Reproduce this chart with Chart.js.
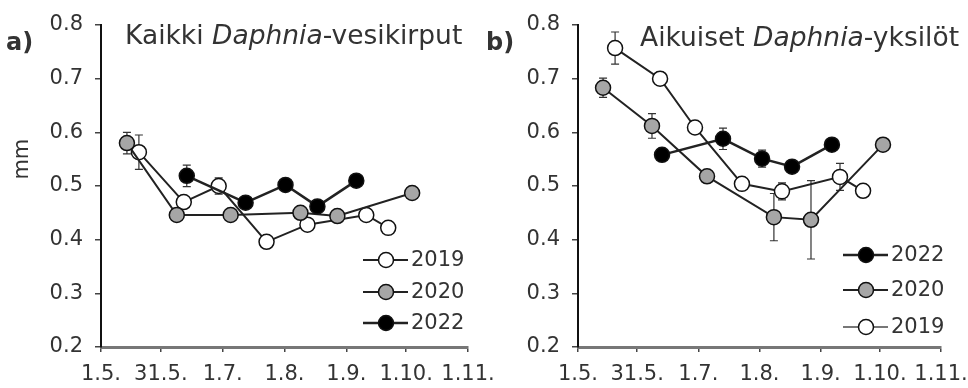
<!DOCTYPE html>
<html>
<head>
<meta charset="utf-8">
<script src="https://cdn.jsdelivr.net/npm/chart.js@4.4.1/dist/chart.umd.min.js"></script>
<style>
  html, body { margin: 0; padding: 0; background: #fff; }
  #wrap { position: relative; width: 968px; height: 388px; overflow: hidden; }
  #chart-a { position: absolute; left: 0; top: 0; width: 520px; height: 388px; }
  #chart-b { position: absolute; left: 480px; top: 0; width: 520px; height: 388px; }
</style>
</head>
<body>
<div id="wrap">
  <canvas id="chart-a" width="520" height="388"></canvas>
  <canvas id="chart-b" width="520" height="388"></canvas>
</div>
<script>
// x values are days counted from 1.5.
const tickDays = [0, 30, 61, 92, 123, 153, 184];
const tickLabels = ['1.5.', '31.5.', '1.7.', '1.8.', '1.9.', '1.10.', '1.11.'];
const yTicks = [0.2, 0.3, 0.4, 0.5, 0.6, 0.7, 0.8];

// a) Kaikki Daphnia-vesikirput
const a2019Days = [19, 41.5, 59, 83, 103.5, 133, 144];
const a2019 = [0.563, 0.470, 0.500, 0.396, 0.428, 0.446, 0.422];
const a2019Err = [0.032, 0.006, 0.015, 0, 0.005, 0, 0];
const a2020Days = [13, 38, 65, 100, 118.5, 156];
const a2020 = [0.580, 0.446, 0.446, 0.450, 0.444, 0.487];
const a2020Err = [0.02, 0, 0, 0, 0, 0];
const a2022Days = [43, 72.5, 92.5, 108.5, 128];
const a2022 = [0.519, 0.469, 0.502, 0.462, 0.510];
const a2022Err = [0.02, 0, 0, 0, 0];

// b) Aikuiset Daphnia-yksilöt
const b2019Days = [18.8, 41.6, 59.3, 83.1, 103.4, 132.8, 144.5];
const b2019 = [0.757, 0.700, 0.609, 0.504, 0.490, 0.517, 0.491];
const b2019Err = [0.03, 0.012, 0, 0, 0.016, 0.025, 0];
const b2020Days = [12.7, 37.5, 65.4, 99.3, 118.1, 154.6];
const b2020 = [0.683, 0.612, 0.518, 0.442, 0.437, 0.577];
const b2020Err = [0.018, 0.023, 0, 0.044, 0.073, 0];
const b2022Days = [42.6, 73.5, 93.3, 108.5, 128.7];
const b2022 = [0.558, 0.588, 0.551, 0.536, 0.577];
const b2022Err = [0, 0.02, 0.016, 0, 0];

const FONT = 'DejaVu Sans';
const INK = '#333';
const FILL = { '2019': '#ffffff', '2020': '#a6a6a6', '2022': '#000000' };

const errorBars = {
  id: 'errorBars',
  beforeDatasetsDraw(chart) {
    const { ctx, scales: { x, y } } = chart;
    ctx.save();
    ctx.strokeStyle = '#333';
    ctx.lineWidth = 1.2;
    chart.data.datasets.forEach(ds => {
      ds.data.forEach((p, i) => {
        const e = ds.errors[i];
        if (!e) return;
        const px = x.getPixelForValue(p.x);
        const y1 = y.getPixelForValue(p.y - e), y2 = y.getPixelForValue(p.y + e);
        ctx.beginPath();
        ctx.moveTo(px, y1); ctx.lineTo(px, y2);
        ctx.moveTo(px - 4, y1); ctx.lineTo(px + 4, y1);
        ctx.moveTo(px - 4, y2); ctx.lineTo(px + 4, y2);
        ctx.stroke();
      });
    });
    ctx.restore();
  }
};

// panel letter, title, y label and the legend
const panelText = {
  id: 'panelText',
  afterDraw(chart, args, o) {
    const ctx = chart.ctx;
    ctx.save();
    ctx.fillStyle = INK;
    ctx.textBaseline = 'alphabetic';
    ctx.textAlign = 'left';

    ctx.font = `bold 24px ${FONT}`;
    ctx.fillText(o.letter, o.letterX, 50);

    let tx = o.titleX;
    o.title.forEach(([txt, it]) => {
      ctx.font = `${it ? 'italic ' : ''}26.5px ${FONT}`;
      ctx.fillText(txt, tx, o.titleY);
      tx += ctx.measureText(txt).width;
    });

    if (o.yLabel) {
      ctx.save();
      ctx.translate(28, chart.scales.y.getPixelForValue(0.55));
      ctx.rotate(-Math.PI / 2);
      ctx.textAlign = 'center';
      ctx.font = `21px ${FONT}`;
      ctx.fillText(o.yLabel, 0, 0);
      ctx.restore();
    }

    o.legend.forEach((lab, i) => {
      const ds = chart.data.datasets.find(d => d.label === lab);
      const ly = o.legendY[i];
      ctx.strokeStyle = ds.legendLine;
      ctx.lineWidth = ds.borderWidth;
      ctx.beginPath();
      ctx.moveTo(o.legendX, ly); ctx.lineTo(o.legendX + 45, ly);
      ctx.stroke();
      ctx.beginPath();
      ctx.arc(o.legendX + 23, ly, 7.5, 0, Math.PI * 2);
      ctx.fillStyle = ds.pointBackgroundColor;
      ctx.fill();
      ctx.lineWidth = 1.5;
      ctx.strokeStyle = '#111';
      ctx.stroke();
      ctx.fillStyle = INK;
      ctx.font = `21px ${FONT}`;
      ctx.textBaseline = 'middle';
      ctx.fillText(lab, o.legendX + 48, ly + 1);
    });
    ctx.restore();
  }
};

function series(label, days, vals, err, lw, legendLine) {
  return {
    label,
    data: days.map((d, i) => ({ x: d, y: vals[i] })),
    errors: err,
    borderColor: '#222',
    borderWidth: lw,
    legendLine: legendLine || '#222',
    pointRadius: 7.5,
    pointBackgroundColor: FILL[label],
    pointBorderColor: '#111',
    pointBorderWidth: 1.5,
    tension: 0,
    fill: false
  };
}

function makeChart(el, datasets, yWidth, padRight, panel) {
  const tickFont = { family: FONT, size: 21 };
  return new Chart(el, {
    type: 'line',
    data: { datasets },
    options: {
      responsive: false,
      animation: false,
      events: [],
      layout: { padding: { left: 0, top: 25, right: padRight, bottom: 0 } },
      plugins: { legend: { display: false }, tooltip: { enabled: false }, panelText: panel },
      scales: {
        x: {
          type: 'linear', min: 0, max: 184,
          afterBuildTicks: s => { s.ticks = tickDays.map(v => ({ value: v })); },
          afterFit: s => { s.height = 41; },
          ticks: { callback: v => tickLabels[tickDays.indexOf(v)], font: tickFont, color: INK, padding: 10, maxRotation: 0, autoSkip: false },
          grid: { drawOnChartArea: false, tickLength: 5, color: '#444', lineWidth: 1.5 },
          border: { color: '#777', width: 3 }
        },
        y: {
          min: 0.2, max: 0.8,
          afterBuildTicks: s => { s.ticks = yTicks.map(v => ({ value: v })); },
          afterFit: s => { s.width = yWidth; },
          ticks: { callback: v => v.toFixed(1), font: tickFont, color: INK, padding: 12 },
          grid: { drawOnChartArea: false, tickLength: 6, color: '#444', lineWidth: 1.5 },
          border: { color: '#111', width: 2 }
        }
      }
    },
    plugins: [errorBars, panelText]
  });
}

// chart area right edges: a at 468, b at 941 (page coords)
makeChart(document.getElementById('chart-a'), [
  series('2022', a2022Days, a2022, a2022Err, 2.5),
  series('2020', a2020Days, a2020, a2020Err, 2),
  series('2019', a2019Days, a2019, a2019Err, 2)
], 101, 52, {
  letter: 'a)', letterX: 6,
  title: [['Kaikki ', false], ['Daphnia', true], ['-vesikirput', false]],
  titleX: 125, titleY: 44,
  yLabel: 'mm',
  legend: ['2019', '2020', '2022'],
  legendX: 363, legendY: [260, 292, 323]
});

makeChart(document.getElementById('chart-b'), [
  series('2022', b2022Days, b2022, b2022Err, 2.5),
  series('2020', b2020Days, b2020, b2020Err, 2),
  series('2019', b2019Days, b2019, b2019Err, 2, '#777')
], 98, 59, {
  letter: 'b)', letterX: 6,
  title: [['Aikuiset ', false], ['Daphnia', true], ['-yksilöt', false]],
  titleX: 160, titleY: 46,
  yLabel: '',
  legend: ['2022', '2020', '2019'],
  legendX: 363, legendY: [255, 290, 327]
});
</script>
</body>
</html>
